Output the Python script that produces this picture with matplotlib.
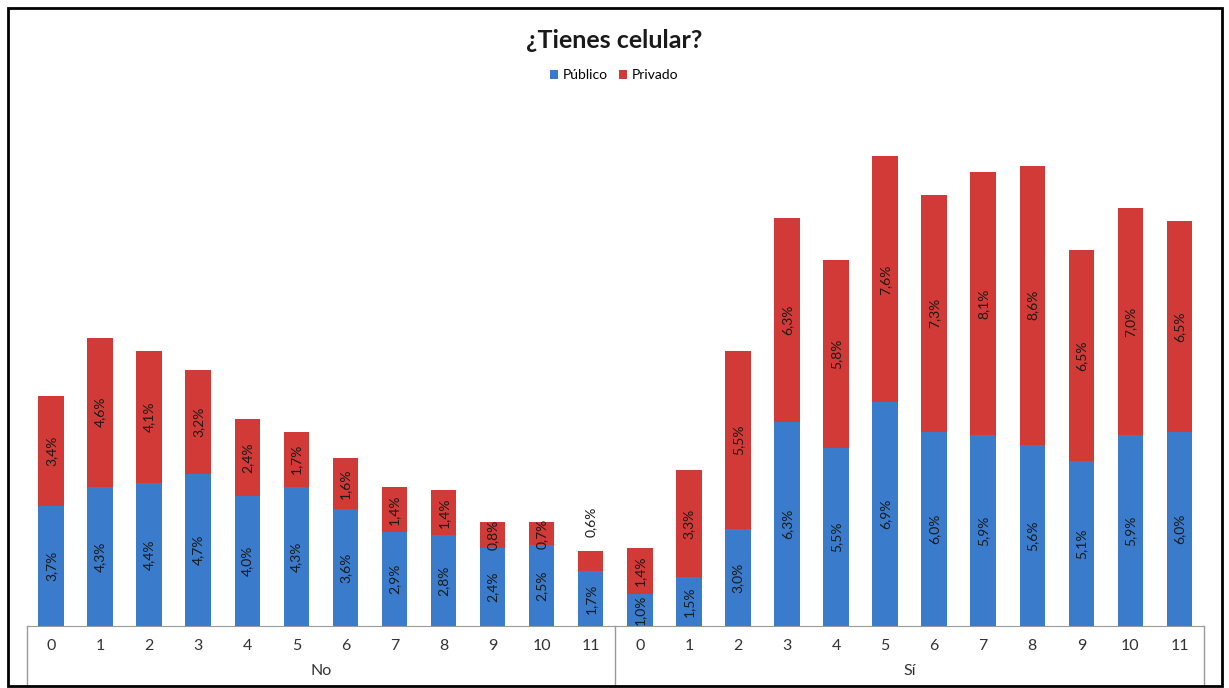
import matplotlib
matplotlib.use("Agg")
import matplotlib.pyplot as plt
from matplotlib.patches import Rectangle
from matplotlib.lines import Line2D
import numpy as np

plt.rcParams['font.family'] = ['Lato', 'DejaVu Sans']

title = "¿Tienes celular?"
groups = ["No", "Sí"]
categories = [str(i) for i in range(12)]
series_names = ["Público", "Privado"]
no_publico = [3.7, 4.3, 4.4, 4.7, 4.0, 4.3, 3.6, 2.9, 2.8, 2.4, 2.5, 1.7]
no_privado = [3.4, 4.6, 4.1, 3.2, 2.4, 1.7, 1.6, 1.4, 1.4, 0.8, 0.7, 0.6]
si_publico = [1.0, 1.5, 3.0, 6.3, 5.5, 6.9, 6.0, 5.9, 5.6, 5.1, 5.9, 6.0]
si_privado = [1.4, 3.3, 5.5, 6.3, 5.8, 7.6, 7.3, 8.1, 8.6, 6.5, 7.0, 6.5]

publico = no_publico + si_publico
privado = no_privado + si_privado
labels = categories + categories

W, H = 1229, 688
fig = plt.figure(figsize=(W / 100, H / 100), dpi=100)

# axes geometry in pixels
ax_left, ax_right = 26.5, 1204
ax_bottom_px = 626  # from top
ax_top_px = 100
ax = fig.add_axes([ax_left / W, (H - ax_bottom_px) / H,
                   (ax_right - ax_left) / W, (ax_bottom_px - ax_top_px) / H])

blue = '#3A7BCB'
red = '#D13A36'
x = np.arange(len(publico))
b1 = ax.bar(x, publico, width=0.52, color=blue, label=series_names[0], zorder=2)
b2 = ax.bar(x, privado, width=0.52, bottom=publico, color=red, label=series_names[1], zorder=2)

def fmt(v):
    return f"{v:.1f}%".replace('.', ',')

for i in range(len(x)):
    ax.text(x[i], publico[i] / 2, fmt(publico[i]), rotation=90, ha='center', va='center',
            fontsize=10, color='#1a1a1a', zorder=3)
    if i == 11:
        ax.text(x[i], publico[i] + privado[i] + 0.45, fmt(privado[i]), rotation=90,
                ha='center', va='bottom', fontsize=10, color='#1a1a1a', zorder=3)
    else:
        ax.text(x[i], publico[i] + privado[i] / 2, fmt(privado[i]), rotation=90,
                ha='center', va='center', fontsize=10, color='#1a1a1a', zorder=3)

ax.set_xlim(-0.5, len(x) - 0.5)
ax.set_ylim(0, (ax_bottom_px - ax_top_px) / 32.4)
for s in ['top', 'right', 'left']:
    ax.spines[s].set_visible(False)
ax.spines['bottom'].set_color('#9a9a9a')
ax.set_yticks([])
ax.set_xticks(x)
ax.set_xticklabels(labels, fontsize=11.5, color='#333333')
ax.tick_params(axis='x', length=0, pad=9)

# group level of the category axis
trans = ax.get_xaxis_transform()
ax_h = ax_bottom_px - ax_top_px
y_bottom = -(684 - ax_bottom_px) / ax_h
for xv in [-0.5, 11.5, 23.5]:
    ax.add_line(Line2D([xv, xv], [0, y_bottom], transform=trans, color='#9a9a9a',
                       lw=1, clip_on=False))
ax.text(5.5, -(671 - ax_bottom_px) / ax_h, groups[0], transform=trans, ha='center', va='center',
        fontsize=11.5, color='#333333')
ax.text(17.5, -(671 - ax_bottom_px) / ax_h, groups[1], transform=trans, ha='center', va='center',
        fontsize=11.5, color='#333333')

# title and legend
fig.text(614 / W, 1 - 40 / H, title, ha='center', va='center', fontsize=18, fontweight='bold',
         color='#1a1a1a')
fig.legend(handles=[b1, b2], labels=series_names, loc='center', bbox_to_anchor=(614 / W, 1 - 75 / H),
           ncol=2, frameon=False, fontsize=10, handlelength=0.6, handleheight=0.6,
           columnspacing=0.8, handletextpad=0.3)

# outer frame
fig.patches.append(Rectangle((8 / W, 2 / H), (1222 - 8) / W, (680 - 2) / H, transform=fig.transFigure,
                             fill=False, edgecolor='black', lw=2))

fig.savefig("out.png", dpi=100, facecolor='white')
